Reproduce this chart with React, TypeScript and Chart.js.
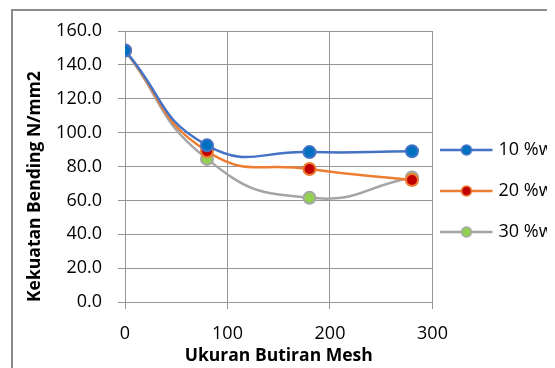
import React, { useEffect, useRef } from 'react';
import { Chart, registerables } from 'chart.js';

Chart.register(...registerables);

const meshSizes = [0, 80, 180, 280];
const series10 = [148.5, 92.5, 88.5, 89];
const series20 = [148.5, 89, 78.5, 72];
const series30 = [148.5, 84.5, 61.5, 73.5];
const seriesLabels = ['10 %wt', '20 %wt', '30 %wt'];
const lineColors = ['#4472C4', '#ED7D31', '#A5A5A5'];
const markerColors = ['#0070C0', '#C00000', '#92D050'];
const xTitle = 'Ukuran Butiran Mesh';
const yTitle = 'Kekuatan Bending N/mm2';

const FONT = "'Open Sans', 'Liberation Sans', sans-serif";
const GRID = '#959595';

function makeLegendIcon(line: string, fill: string) {
  const c = document.createElement('canvas');
  c.width = 64;
  c.height = 16;
  const ctx = c.getContext('2d')!;
  ctx.strokeStyle = line;
  ctx.lineWidth = 2.5;
  ctx.beginPath();
  ctx.moveTo(0, 8);
  ctx.lineTo(52, 8);
  ctx.stroke();
  ctx.beginPath();
  ctx.arc(26, 8, 5, 0, Math.PI * 2);
  ctx.fillStyle = fill;
  ctx.fill();
  ctx.lineWidth = 1.5;
  ctx.stroke();
  return c;
}

export default function App() {
  const ref = useRef<HTMLCanvasElement | null>(null);

  useEffect(() => {
    if (!ref.current) return;
    const allSeries = [series10, series20, series30];
    const icons = lineColors.map((c, i) => makeLegendIcon(c, markerColors[i]));
    const chart = new Chart(ref.current, {
      type: 'line',
      data: {
        datasets: allSeries.map((s, i) => ({
          label: seriesLabels[i],
          data: s.map((v, j) => ({ x: meshSizes[j], y: v })),
          borderColor: lineColors[i],
          backgroundColor: markerColors[i],
          borderWidth: 2.5,
          tension: 0.5,
          pointRadius: 6,
          pointBorderWidth: 2,
          pointBackgroundColor: markerColors[i],
          pointBorderColor: lineColors[i],
          fill: false,
        })),
      },
      options: {
        responsive: false,
        animation: false,
        layout: { padding: { left: 0, right: 0, top: 0, bottom: 0 } },
        scales: {
          x: {
            type: 'linear',
            min: 0,
            max: 300,
            ticks: { stepSize: 100, color: '#000', padding: 14, font: { family: FONT, size: 18 } },
            grid: { color: GRID, lineWidth: 1, tickLength: 7, drawTicks: true },
            border: { color: GRID, width: 1 },
            title: {
              display: true,
              text: xTitle,
              color: '#000',
              font: { family: FONT, size: 17.5, weight: 'bold' },
              padding: { top: 2, bottom: 4 },
            },
            afterFit: (scale: any) => {
              scale.height = 69;
            },
          },
          y: {
            min: 0,
            max: 160,
            ticks: {
              stepSize: 20,
              color: '#000',
              padding: 16,
              font: { family: FONT, size: 18 },
              callback: (v: any) => Number(v).toFixed(1),
            },
            grid: { color: GRID, lineWidth: 1, tickLength: 7 },
            border: { color: GRID, width: 1 },
            title: {
              display: true,
              text: yTitle,
              align: 'start',
              color: '#000',
              font: { family: FONT, size: 17.5, weight: 'bold' },
              padding: { top: 12, bottom: 4 },
            },
            afterFit: (scale: any) => {
              scale.width = 112;
              scale.paddingTop = 11;
              scale.paddingBottom = 11;
            },
          },
        },
        plugins: {
          title: {
            display: true,
            text: '',
            fullSize: false,
            font: { size: 10 },
            padding: { top: 8, bottom: 0 },
          },
          legend: {
            position: 'right',
            labels: {
              usePointStyle: true,
              pointStyleWidth: 34,
              padding: 23,
              color: '#000',
              font: { family: FONT, size: 18 },
              generateLabels: (ch: any) =>
                ch.data.datasets.map((d: any, i: number) => ({
                  text: d.label,
                  pointStyle: icons[i],
                  fillStyle: markerColors[i],
                  strokeStyle: lineColors[i],
                  lineWidth: 0,
                  fontColor: '#000',
                  hidden: false,
                  datasetIndex: i,
                })),
            },
          },
          tooltip: { enabled: false },
        },
      },
    });
    return () => chart.destroy();
  }, []);

  return (
    <div style={{ position: 'relative', width: 547, height: 360, overflow: 'hidden' }}>
      <div
        style={{
          position: 'absolute',
          left: 3,
          top: 1,
          width: 600,
          height: 400,
          border: '2px solid #8c8c8c',
          background: '#fff',
        }}
      >
        <canvas ref={ref} width={556} height={360} style={{ display: 'block', width: 556, height: 360 }} />
      </div>
    </div>
  );
}
